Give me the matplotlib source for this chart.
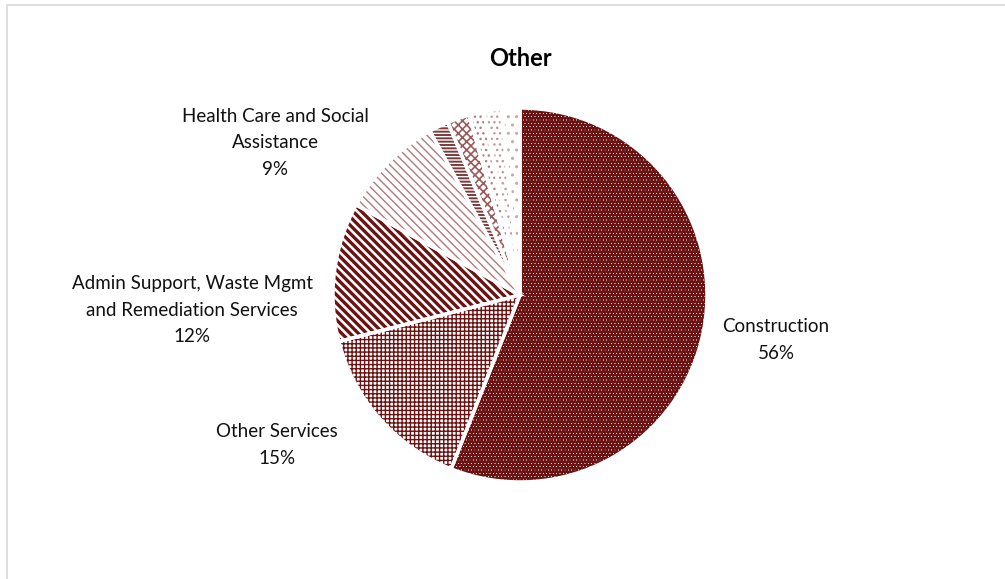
import matplotlib
matplotlib.use("Agg")
import matplotlib.pyplot as plt
from matplotlib.patches import Rectangle

plt.rcParams['font.family'] = ['Lato', 'DejaVu Sans']

title = "Other"
categories = ["Construction", "Other Services",
              "Admin Support, Waste Mgmt\nand Remediation Services",
              "Health Care and Social\nAssistance",
              "Transportation and Warehousing", "Retail Trade",
              "Accommodation and Food Services", "Wholesale Trade",
              "Professional Services"]
shares = [56, 15, 12, 9, 1.7, 1.9, 1.3, 1.5, 1.6]
labelled = [True, True, True, True, False, False, False, False, False]

maroon = "#6b1212"
hatches = ["ooooo", "++++", "\\\\\\\\", "\\\\\\\\", "-----", "xxxx", "...", "...", ".."]
hatch_colors = [maroon, maroon, maroon, "#b07a7a", "#7a3a3a", "#9a5a5a", "#b08080", "#c09a9a", "#c8a8a8"]
hatch_widths = [2.2, 1.0, 2.4, 1.0, 1.4, 1.2, 1.0, 1.0, 1.0]

W, H = 1005, 579
fig = plt.figure(figsize=(W / 100, H / 100), dpi=100)
ax = fig.add_axes([0, 0, 1, 1])

cx, cy, r = 520, H - 295, 187

wedges, _ = ax.pie(shares, startangle=90, counterclock=False,
                   center=(cx, cy), radius=r)
for w, h, c, lw in zip(wedges, hatches, hatch_colors, hatch_widths):
    w.set_facecolor("white")
    w.set_edgecolor(c)
    w.set_linewidth(0)
    w.set_hatch(h)
    if hasattr(w, "set_hatch_linewidth"):
        w.set_hatch_linewidth(lw)

# white separators between slices
sep, _ = ax.pie(shares, startangle=90, counterclock=False,
                center=(cx, cy), radius=r,
                wedgeprops=dict(facecolor="none", edgecolor="white", linewidth=2.5))

ax.set_xlim(0, W)
ax.set_ylim(0, H)
ax.set_aspect("auto")
ax.axis("off")

# chart border
ax.add_patch(Rectangle((7, -20), W + 20, H - 5 + 20, fill=False,
                       edgecolor="#d9d9d9", linewidth=1.2))

ax.text(cx, H - 58, title, ha="center", va="center", fontsize=17,
        fontweight="bold", color="black")

label_pos = {0: (776, H - 340), 1: (277, H - 445), 2: (192, H - 310), 3: (275, H - 143)}
for i, (name, s) in enumerate(zip(categories, shares)):
    if not labelled[i]:
        continue
    x, y = label_pos[i]
    ax.text(x, y, f"{name}\n{s:.0f}%", ha="center", va="center",
            fontsize=13.5, color="#111111", linespacing=1.7)

fig.savefig("out.png", dpi=100, facecolor="white")
